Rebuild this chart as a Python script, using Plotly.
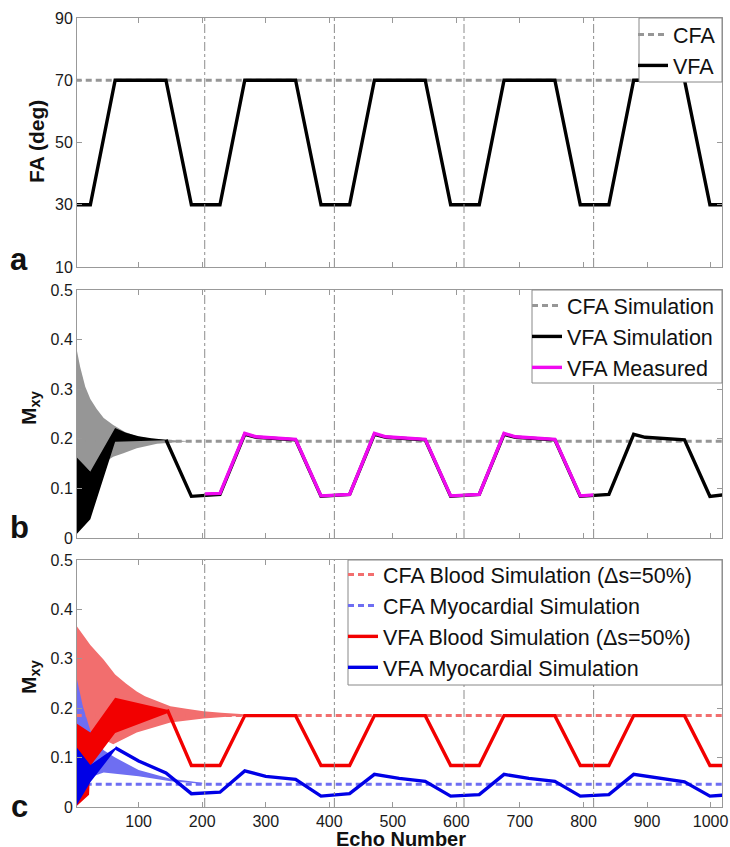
import plotly.graph_objects as go

# ---------------- data ----------------
# Panel a: flip angle schedules
echo_fa = [1, 24, 63, 143, 183, 228, 267, 347, 387, 432, 471, 551, 591, 636, 675, 755, 795, 840, 879, 959, 999, 1020]
fa_vfa = [30, 30, 70, 70, 30, 30, 70, 70, 30, 30, 70, 70, 30, 30, 70, 70, 30, 30, 70, 70, 30, 30]
echo_cfa = [1, 1020]
fa_cfa = [70, 70]

# Panel b: transverse magnetisation (phantom)
cfa_sim_b = [0.195, 0.195]
# transient oscillation envelope of CFA simulation
b_cfa_up_x = [1, 8, 16, 24, 34, 45, 60, 78, 97, 120, 145, 180]
b_cfa_up_y = [0.39, 0.345, 0.305, 0.28, 0.26, 0.242, 0.228, 0.214, 0.205, 0.2, 0.198, 0.196]
b_cfa_lo_x = [1, 24, 60, 76, 97, 129, 180]
b_cfa_lo_y = [0.165, 0.134, 0.164, 0.171, 0.181, 0.19, 0.195]
# transient oscillation envelope of VFA simulation
b_vfa_up_x = [1, 24, 63, 80, 100, 120, 143]
b_vfa_up_y = [0.165, 0.134, 0.222, 0.212, 0.205, 0.201, 0.198]
b_vfa_lo_x = [1, 24, 26, 63, 143]
b_vfa_lo_y = [0.006, 0.038, 0.05, 0.194, 0.197]
# VFA simulation after transient
b_vfa_x = [143, 183, 228, 267, 285, 347, 387, 432, 471, 489, 551, 591, 636, 675, 693, 755, 795, 840, 879, 897, 959, 999, 1020]
b_vfa_y = [0.198, 0.084, 0.088, 0.209, 0.203, 0.198, 0.084, 0.088, 0.209, 0.203, 0.198, 0.084, 0.088, 0.209, 0.203, 0.198,
           0.084, 0.088, 0.209, 0.203, 0.198, 0.084, 0.087]
# VFA measured
b_meas_x = [204, 228, 267, 285, 347, 387, 432, 471, 489, 551, 591, 636, 675, 693, 755, 795, 816]
b_meas_y = [0.089, 0.09, 0.211, 0.204, 0.199, 0.085, 0.088, 0.211, 0.204, 0.199, 0.085, 0.088, 0.211, 0.204, 0.199, 0.085, 0.087]

# Panel c: blood / myocardium simulations
cfa_blood_c = [0.185, 0.185]
cfa_myo_c = [0.046, 0.046]
c_cb_up_x = [1, 12, 24, 35, 45, 63, 80, 97, 110, 124, 150, 175, 202, 230, 255, 300]
c_cb_up_y = [0.369, 0.35, 0.328, 0.312, 0.298, 0.268, 0.25, 0.234, 0.224, 0.217, 0.204, 0.199, 0.194, 0.191, 0.189, 0.186]
c_cb_lo_x = [1, 24, 60, 97, 124, 150, 202, 255, 300]
c_cb_lo_y = [0.15, 0.15, 0.127, 0.151, 0.161, 0.171, 0.179, 0.184, 0.185]
c_cm_up_x = [1, 12, 24, 45, 63, 100, 150, 200]
c_cm_up_y = [0.27, 0.205, 0.155, 0.115, 0.1, 0.075, 0.057, 0.049]
c_cm_lo_x = [1, 24, 45, 100, 150, 200]
c_cm_lo_y = [0.02, 0.06, 0.07, 0.062, 0.052, 0.047]
c_vb_up_x = [1, 24, 63, 145]
c_vb_up_y = [0.17, 0.151, 0.221, 0.197]
c_vb_lo_x = [1, 22, 24, 63, 145]
c_vb_lo_y = [0.0, 0.025, 0.083, 0.15, 0.19]
c_vm_up_x = [1, 24, 63]
c_vm_up_y = [0.123, 0.085, 0.12]
c_vm_lo_x = [1, 24, 63]
c_vm_lo_y = [0.0, 0.05, 0.115]
c_vb_x = [145, 183, 228, 267, 347, 387, 432, 471, 551, 591, 636, 675, 755, 795, 840, 879, 959, 999, 1020]
c_vb_y = [0.197, 0.084, 0.084, 0.185, 0.185, 0.084, 0.084, 0.185, 0.185, 0.084, 0.084, 0.185, 0.185, 0.084, 0.084, 0.185,
          0.185, 0.084, 0.084]
c_vm_x = [63, 100, 143, 183, 228, 267, 300, 347, 387, 432, 471, 510, 551, 591, 636, 675, 714, 755, 795, 840, 879, 918, 959, 999, 1020]
c_vm_y = [0.12, 0.093, 0.069, 0.027, 0.03, 0.073, 0.062, 0.056, 0.022, 0.027, 0.066, 0.058, 0.052, 0.022, 0.025, 0.066,
          0.058, 0.052, 0.022, 0.025, 0.066, 0.058, 0.051, 0.022, 0.024]

period_lines = [204, 408, 612, 816]
x_ticks = [100, 200, 300, 400, 500, 600, 700, 800, 900, 1000]

# ---------------- styling ----------------
W, H = 730, 847
GREY = "#999999"
FONT = "Liberation Sans, Arial, Helvetica, sans-serif"
C_GREY = "#969696"
C_LRED = "#f26e6e"
C_RED = "#f20000"
C_LBLUE = "#6e6ef2"
C_BLUE = "#0000e6"
C_MAG = "#f00af0"
DASH = "6px,4px"


def py(px):
    return 1 - px / H


def env(xu, yu, xl, yl):
    return xu + xl[::-1], yu + yl[::-1]


fig = go.Figure()


def fill(xu, yu, xl, yl, color, xa, ya):
    xs, ys = env(xu, yu, xl, yl)
    fig.add_trace(go.Scatter(x=xs, y=ys, fill="toself", fillcolor=color, mode="lines",
                             line=dict(width=0, color=color), showlegend=False, hoverinfo="skip",
                             xaxis=xa, yaxis=ya))


def line(x, y, color, name, xa, ya, leg, dash=None, width=3.2, show=True):
    fig.add_trace(go.Scatter(x=x, y=y, mode="lines", name=name,
                             line=dict(color=color, width=width, dash=dash),
                             showlegend=show, legend=leg, xaxis=xa, yaxis=ya))


# panel a
line(echo_cfa, fa_cfa, C_GREY, "CFA", "x", "y", "legend", dash=DASH, width=3)
line(echo_fa, fa_vfa, "black", "VFA", "x", "y", "legend", width=3.4)

# panel b
fill(b_cfa_up_x, b_cfa_up_y, b_cfa_lo_x, b_cfa_lo_y, C_GREY, "x2", "y2")
line(echo_cfa, cfa_sim_b, C_GREY, "CFA Simulation", "x2", "y2", "legend2", dash=DASH, width=3)
fill(b_vfa_up_x, b_vfa_up_y, b_vfa_lo_x, b_vfa_lo_y, "black", "x2", "y2")
line(b_vfa_x, b_vfa_y, "black", "VFA Simulation", "x2", "y2", "legend2", width=3.4)
line(b_meas_x, b_meas_y, C_MAG, "VFA Measured", "x2", "y2", "legend2", width=3.4)

# panel c
fill(c_cb_up_x, c_cb_up_y, c_cb_lo_x, c_cb_lo_y, C_LRED, "x3", "y3")
fill(c_cm_up_x, c_cm_up_y, c_cm_lo_x, c_cm_lo_y, C_LBLUE, "x3", "y3")
line(echo_cfa, cfa_blood_c, C_LRED, "CFA Blood Simulation (\u0394s=50%)", "x3", "y3", "legend3", dash=DASH, width=3)
line(echo_cfa, cfa_myo_c, C_LBLUE, "CFA Myocardial Simulation", "x3", "y3", "legend3", dash=DASH, width=3)
fill(c_vb_up_x, c_vb_up_y, c_vb_lo_x, c_vb_lo_y, C_RED, "x3", "y3")
line(c_vb_x, c_vb_y, C_RED, "VFA Blood Simulation (\u0394s=50%)", "x3", "y3", "legend3", width=3.4)
fill(c_vm_up_x, c_vm_up_y, c_vm_lo_x, c_vm_lo_y, C_BLUE, "x3", "y3")
line(c_vm_x, c_vm_y, C_BLUE, "VFA Myocardial Simulation", "x3", "y3", "legend3", width=3.4)

x_dom = [77 / W, 722 / W]
panels = [(18, 267), (290, 538), (560, 807)]
xr = [3, 1018]

axis_common = dict(showline=True, linecolor=GREY, linewidth=1, mirror="ticks", ticks="inside",
                   ticklen=5, tickcolor=GREY, showgrid=False, zeroline=False, automargin=False,
                   tickfont=dict(family=FONT, size=16, color="#1a1a1a"))

layout = dict(width=W, height=H, margin=dict(l=0, r=0, t=0, b=0, pad=0, autoexpand=False),
              plot_bgcolor="white", paper_bgcolor="white", font=dict(family=FONT, color="#111111"),
              showlegend=True)

for i, (top, bot) in enumerate(panels):
    sfx = "" if i == 0 else str(i + 1)
    layout["xaxis" + sfx] = dict(axis_common, domain=x_dom, range=xr, tickvals=x_ticks,
                                 showticklabels=(i == 2), anchor="y" + sfx)
    if i == 0:
        yv = dict(range=[10, 90], tickvals=[10, 30, 50, 70, 90])
    else:
        yv = dict(range=[0, 0.5], tickvals=[0, 0.1, 0.2, 0.3, 0.4, 0.5],
                  ticktext=["0", "0.1", "0.2", "0.3", "0.4", "0.5"])
    layout["yaxis" + sfx] = dict(axis_common, domain=[py(bot), py(top)], anchor="x" + sfx, **yv)

# legends (frames drawn as shapes to mimic the original padding)
leg_common = dict(bgcolor="rgba(0,0,0,0)", borderwidth=0,
                  font=dict(family=FONT, size=21.5, color="#111111"), xanchor="left", yanchor="top",
                  itemwidth=30, tracegroupgap=0)
layout["legend"] = dict(leg_common, x=(673 - 40) / W, y=py(37 - 23))
layout["legend2"] = dict(leg_common, x=(567 - 40) / W, y=py(308 - 23))
layout["legend3"] = dict(leg_common, x=(383 - 40) / W, y=py(577 - 23))

shapes = []
for i in range(3):
    sfx = "" if i == 0 else str(i + 1)
    for xv in period_lines:
        shapes.append(dict(type="line", xref="x" + sfx, yref="y" + sfx + " domain", x0=xv, x1=xv,
                           y0=0, y1=1, line=dict(color="#8c8c8c", width=1, dash="dashdot"), layer="above"))
for (l, t, r, b) in [(639, 18, 722, 82), (532, 290, 722, 383), (348, 560, 722, 685)]:
    shapes.append(dict(type="rect", xref="paper", yref="paper", x0=l / W, x1=r / W, y0=py(b), y1=py(t),
                       fillcolor="white", line=dict(color="#888888", width=1), layer="above"))
layout["shapes"] = shapes

ann = []
bold = dict(family=FONT, size=21, color="#111111")
ann.append(dict(text="<b>FA (deg)</b>", x=37 / W, y=py(142), xref="paper", yref="paper", textangle=-90,
                showarrow=False, font=bold, xanchor="center", yanchor="middle"))
ann.append(dict(text="<b>M<sub>xy</sub></b>", x=30 / W, y=py(408), xref="paper", yref="paper", textangle=-90,
                showarrow=False, font=bold, xanchor="center", yanchor="middle"))
ann.append(dict(text="<b>M<sub>xy</sub></b>", x=30 / W, y=py(677), xref="paper", yref="paper", textangle=-90,
                showarrow=False, font=bold, xanchor="center", yanchor="middle"))
ann.append(dict(text="<b>Echo Number</b>", x=401 / W, y=py(839), xref="paper", yref="paper",
                showarrow=False, font=dict(family=FONT, size=20, color="#111111"),
                xanchor="center", yanchor="middle"))
for letter, cy in [("a", 259), ("b", 527), ("c", 806)]:
    ann.append(dict(text="<b>%s</b>" % letter, x=19 / W, y=py(cy), xref="paper", yref="paper",
                    showarrow=False, font=dict(family=FONT, size=31, color="#111111"),
                    xanchor="center", yanchor="middle"))
layout["annotations"] = ann

fig.update_layout(**layout)
fig.write_html("out.html")
